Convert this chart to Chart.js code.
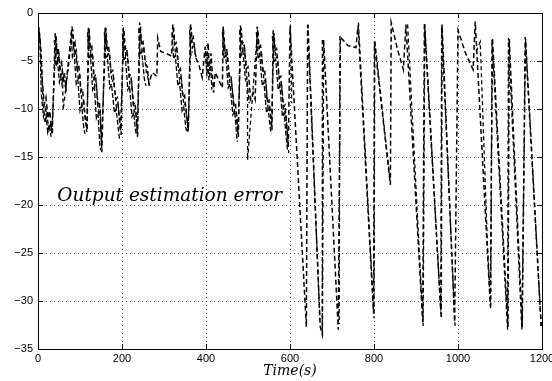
<!DOCTYPE html>
<html><head><meta charset="utf-8">
<script src="https://cdn.jsdelivr.net/npm/chart.js@4/dist/chart.umd.min.js"></script>
<style>html,body{margin:0;padding:0;background:#fff}#wrap{width:552px;height:381px}</style>
</head><body><div id="wrap"><canvas id="c" width="552" height="381"></canvas></div>
<script>
const xTicks = [0, 200, 400, 600, 800, 1000, 1200];
const yTicks = [-35, -30, -25, -20, -15, -10, -5, 0];
const xTitle = 'Time(s)';
const noteText = 'Output estimation error';
const noteAt = [46, -19.1];

const timeA = [0,5,10,15,19,24,28,34,36,
41,45,48,52,56,60,66,
81,85,88,93,97,102,106,111,117,
120,124,128,133,137,142,146,150,152,
160,164,168,174,178,185,189,195,198,
203,207,211,217,221,227,231,235,237,
242,246,250,256,260,264,272,283,
285,292,305,318,
321,325,329,335,339,345,349,354,358,
363,366,370,375,383,391,
398,401,405,408,412,416,418,
422,439,
441,445,449,455,459,466,470,475,477,
482,486,490,496,500,506,512,517,
522,526,530,536,540,546,550,555,557,
560,564,568,574,578,584,588,593,596,
600,639,642,672,677,680,715,720,738,757,762,799,801,839,841,856,870,876,916,920,960,962,992,1000,1018,1036,1041,1077,1082,1119,1122,1153,1160,1198];
const errA = [-1.8,-2.8,-7,-9.5,-8.8,-11,-10.2,-12.7,-9.5,
-2.1,-4.2,-3.6,-5.8,-5.2,-6.8,-7.8,
-1.4,-3.5,-3.1,-5.8,-5.4,-8.2,-7.9,-10.5,-12.2,
-1.4,-3.8,-3.5,-6.8,-6.4,-9.5,-9.2,-12.4,-14.5,
-1.4,-3.6,-3.4,-6.2,-6.0,-9.0,-8.8,-11.5,-12.7,
-1.5,-3.8,-3.6,-6.6,-6.4,-9.5,-9.3,-11.6,-12.9,
-1.0,-3.2,-3.0,-5.3,-5.6,-7.3,-6.2,-6.6,
-2.6,-4.0,-4.2,-4.5,
-1.2,-3.3,-3.1,-6.0,-5.8,-8.8,-8.6,-10.8,-12.2,
-1.1,-2.8,-2.5,-4.6,-5.4,-6.7,
-3.5,-5.5,-3.1,-6.0,-4.2,-7.0,-8.3,
-6.2,-7.8,
-1.4,-3.8,-3.6,-6.6,-6.4,-9.6,-9.4,-12.0,-12.9,
-1.3,-3.2,-3.0,-5.8,-5.6,-9.0,-8.3,-9.0,
-1.4,-3.6,-3.4,-6.3,-6.1,-9.3,-9.1,-11.3,-12.2,
-1.8,-3.9,-3.7,-6.8,-6.6,-9.8,-9.6,-12.3,-14.0,
-1.4,-32.7,-1.25,-32.7,-33.5,-2.8,-33.0,-2.5,-3.4,-3.6,-1.3,-31.3,-3.0,-17.9,-1.0,-3.8,-5.9,-1.2,-32.2,-1.0,-31.8,-1.2,-32.2,-1.8,-4.2,-5.9,-0.9,-30.6,-2.6,-32.7,-2.7,-32.7,-2.5,-32.6];

const timeB = [2,8,12,17,21,26,31,33,
43,47,50,55,58,60,
83,87,91,96,100,105,109,114,116,
122,126,130,135,139,144,148,151,
162,166,170,176,180,187,191,196,
205,209,213,219,223,229,233,236,
244,248,252,258,262,266,266,
323,327,331,337,341,347,351,356,357,
365,368,372,377,377,
440,447,451,457,461,468,472,476,
484,488,492,497,499,499,
523,528,532,538,542,548,552,556,
562,566,570,576,580,586,590,595,597,597,
601,604,604,
643,671,671,
677,677,677,
719,717,717,
763,800,802,838,838,
880,917,921,959,961,993,993,
1043,1053,1070,1078,1081,1118,1120,1152,1161,1198];
const errB = [-1.5,-4.5,-9,-11.5,-10.5,-12.2,-11.4,-12.5,
-2.4,-5.0,-4.4,-6.5,-6.0,-10.1,
-1.7,-4.3,-3.9,-7.0,-6.6,-9.7,-9.3,-11.6,-12.4,
-1.7,-4.6,-4.2,-7.6,-7.2,-10.4,-10.0,-13.6,
-1.6,-4.4,-4.1,-7.2,-6.9,-9.9,-9.6,-12.2,
-1.8,-4.6,-4.3,-7.5,-7.2,-10.3,-10.1,-12.3,
-1.3,-4.0,-3.7,-6.2,-6.8,-7.6,null,
-1.5,-4.1,-3.8,-6.9,-6.6,-9.6,-9.4,-11.6,-12.4,
-1.5,-3.6,-3.3,-4.9,null,
-1.7,-4.6,-4.3,-7.4,-7.2,-10.3,-10.1,-12.6,
-1.6,-4.0,-3.7,-6.7,-9.4,-15.3,
-1.7,-4.4,-4.1,-7.1,-6.9,-10.1,-9.9,-11.9,
-2.1,-4.7,-4.5,-7.6,-7.4,-10.6,-10.4,-13.2,-14.6,null,
-1.2,-9.4,null,
-1.2,-32.0,null,
-2.8,-33.5,null,
-2.4,-32.4,null,
-1.0,-31.8,-2.9,-17.4,null,
-1.2,-32.6,-1.2,-31.0,-1.4,-32.6,null,
-4.0,-3.0,-24.0,-30.8,-2.8,-33.0,-2.6,-33.0,-2.7,-32.6];

const timeC = [0,4,8,13,18,23,27,31,31,
39,43,46,51,54,57,63,67,67,
79,82,86,91,95,100,104,109,112,112,
118,121,125,130,134,139,143,147,149,149,
158,161,165,171,175,182,186,192,194,194,
201,204,208,214,218,224,228,232,234,234,
240,243,247,253,257,257,
319,323,327,333,337,343,347,352,354,354,
361,364,368,368,
399,402,404,407,411,414,414,
439,443,447,453,457,464,468,473,475,475,
480,484,488,494,497,503,503,
520,524,528,534,538,544,548,553,555,555,
558,562,566,572,576,582,586,591,594];
const errC = [-1.2,-2.2,-8.5,-10.8,-10.0,-12.4,-11.6,-12.9,null,
-2.8,-5.6,-4.8,-7.2,-6.6,-7.4,-6.2,-8.2,null,
-2.0,-4.6,-4.2,-7.4,-7.0,-10.2,-9.6,-12.0,-12.6,null,
-2.0,-4.8,-4.4,-8.0,-7.6,-11.0,-10.6,-13.6,-14.3,null,
-2.0,-4.8,-4.4,-7.8,-7.4,-10.4,-10.0,-12.4,-13.1,null,
-2.2,-5.0,-4.6,-8.0,-7.6,-10.8,-10.4,-12.2,-12.6,null,
-1.6,-4.4,-4.0,-6.8,-7.6,null,
-2.0,-4.8,-4.4,-7.6,-7.2,-10.2,-9.8,-12.0,-12.3,null,
-1.8,-4.4,-4.0,null,
-4.0,-6.6,-4.6,-7.0,-5.4,-8.0,null,
-2.0,-4.8,-4.4,-7.8,-7.4,-10.6,-10.2,-12.8,-13.4,null,
-1.8,-4.4,-4.0,-7.0,-6.8,-9.4,null,
-2.0,-4.8,-4.4,-7.6,-7.2,-10.4,-10.0,-12.0,-12.6,null,
-2.4,-5.2,-4.8,-8.0,-7.6,-10.8,-10.4,-13.0,-14.3];

const toPts = (xs, ys) => xs.map((x, i) => ({x: x, y: ys[i]}));
const minus = v => (v < 0 ? '\u2212' + Math.abs(v) : String(v));

const frame = {
  id: 'frame',
  afterDraw(chart) {
    const {ctx, chartArea: a, scales: {x, y}} = chart;
    ctx.save();
    ctx.strokeStyle = '#000';
    ctx.lineWidth = 1;
    ctx.strokeRect(Math.round(a.left) + 0.5, Math.round(a.top) + 0.5, Math.round(a.right - a.left), Math.round(a.bottom - a.top));
    ctx.beginPath();
    xTicks.forEach(v => {
      const px = Math.round(x.getPixelForValue(v)) + 0.5;
      ctx.moveTo(px, a.bottom); ctx.lineTo(px, a.bottom - 5);
      ctx.moveTo(px, a.top); ctx.lineTo(px, a.top + 5);
    });
    yTicks.forEach(v => {
      const py = Math.round(y.getPixelForValue(v)) + 0.5;
      ctx.moveTo(a.left, py); ctx.lineTo(a.left + 5, py);
      ctx.moveTo(a.right, py); ctx.lineTo(a.right - 5, py);
    });
    ctx.stroke();
    ctx.fillStyle = '#000';
    ctx.font = 'italic 18.5px "DejaVu Serif"';
    ctx.textBaseline = 'middle';
    ctx.textAlign = 'left';
    ctx.fillText(noteText, x.getPixelForValue(noteAt[0]), y.getPixelForValue(noteAt[1]));
    ctx.restore();
  }
};

const noPad = s => { s.paddingLeft = 0; s.paddingRight = 0; s.paddingTop = 0; s.paddingBottom = 0; };
const ds = (xs, ys, w, dash) => ({data: toPts(xs, ys), borderColor: '#000', borderWidth: w, borderDash: dash, pointRadius: 0, fill: false, tension: 0, spanGaps: false});

new Chart(document.getElementById('c'), {
  type: 'line',
  data: {
    datasets: [
      ds(timeA, errA, 1.5, [5, 3]),
      ds(timeB, errB, 1.3, [4, 3]),
      ds(timeC, errC, 1.3, [5, 2])
    ]
  },
  options: {
    responsive: false,
    animation: false,
    layout: {padding: {top: 13, right: 10, left: 0, bottom: 0}},
    plugins: {legend: {display: false}, tooltip: {enabled: false}},
    scales: {
      x: {
        type: 'linear', min: 0, max: 1200,
        afterBuildTicks: s => { s.ticks = xTicks.map(v => ({value: v})); },
        afterFit: s => { s.height = 32; noPad(s); },
        grid: {color: '#555', lineWidth: 1, drawTicks: false},
        border: {display: false, dash: [1, 3]},
        ticks: {font: {family: 'Liberation Sans', size: 11}, color: '#000', padding: 3, maxRotation: 0, autoSkip: false, callback: v => String(v)},
        title: {display: true, text: xTitle, font: {family: 'DejaVu Serif', style: 'italic', size: 14}, color: '#000', padding: {top: 0, bottom: 1}}
      },
      y: {
        type: 'linear', min: -35, max: 0,
        afterBuildTicks: s => { s.ticks = yTicks.map(v => ({value: v})); },
        afterFit: s => { s.width = 38; noPad(s); },
        grid: {color: '#555', lineWidth: 1, drawTicks: false},
        border: {display: false, dash: [1, 3]},
        ticks: {font: {family: 'Liberation Sans', size: 11}, color: '#000', padding: 5, callback: v => minus(v), autoSkip: false}
      }
    }
  },
  plugins: [frame]
});
</script>
</body></html>
